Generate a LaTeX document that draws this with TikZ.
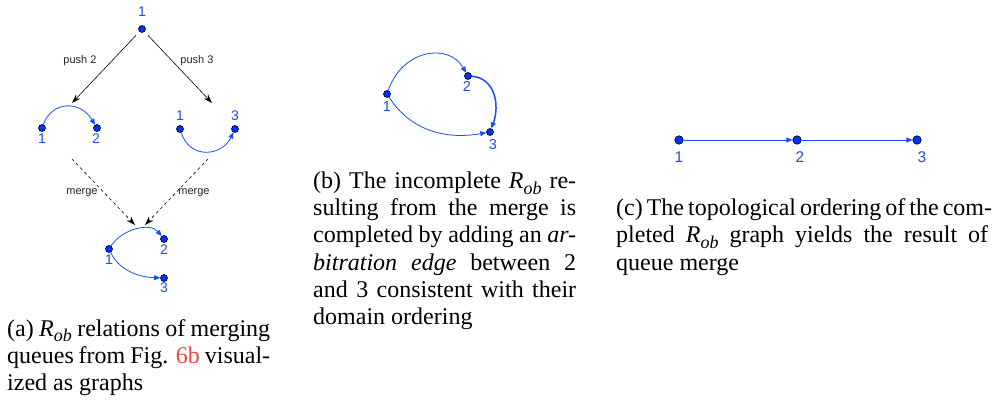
\documentclass[tikz,border=0pt]{standalone}
\usepackage{fontspec}
\setmainfont{Liberation Serif}
\newfontfamily\sansf{Liberation Sans}
\usetikzlibrary{arrows.meta}
\definecolor{gblue}{RGB}{25,75,255}
\definecolor{dotblue}{RGB}{0,50,255}
\definecolor{lblue}{RGB}{35,75,235}
\definecolor{refred}{RGB}{230,75,60}
\newcommand{\Rob}{\textit{R}\raisebox{-0.22em}{\fontsize{18}{18}\selectfont\textit{ob}}}
\tikzset{
  dot/.style={circle,fill=dotblue,draw=black,line width=0.6pt,inner sep=0pt,minimum size=#1},
  dot/.default=7pt,
  bedge/.style={draw=gblue,line width=0.8pt,-{Triangle[length=6pt,width=5pt]}},
  lab/.style={text=lblue,font=\sansf\fontsize{#1}{#1}\selectfont,inner sep=0pt},
  lab/.default=14,
  opl/.style={font=\sansf\fontsize{11}{11}\selectfont,inner sep=0pt,text=black!85},
  parr/.style={draw=black,line width=0.6pt,-{Stealth[length=9pt,width=6pt]}},
  darr/.style={parr,dash pattern=on 3pt off 3pt},
  capl/.style={anchor=base west,inner sep=0pt,font=\fontsize{24}{27}\selectfont}
}
\begin{document}
\begin{tikzpicture}[x=1pt,y=-1pt]
\path[use as bounding box,fill=white] (0,0) rectangle (998,403);
% ---------- panel (a)
\node[dot] (t) at (142,29) {};
\node[lab] (tl) at (142,12) {1};
\coordinate (p2e) at (72,103);
\coordinate (p3e) at (212,103);
\draw[parr,shorten <=5pt] (t) -- (p2e);
\draw[parr,shorten <=5pt] (t) -- (p3e);
\node[opl] (push2) at (80,61) {push 2};
\node[opl] (push3) at (197,61) {push 3};
% left graph
\node[dot] (l1) at (42,128) {};
\node[dot] (l2) at (97,128) {};
\node[lab] (l1l) at (42,139) {1};
\node[lab] (l2l) at (96,139) {2};
\draw[bedge] (l1) .. controls (52,101) and (80,100) .. (l2);
% right graph
\node[dot] (r1) at (180,129) {};
\node[dot] (r3) at (235,129) {};
\node[lab] (r1l) at (180,116) {1};
\node[lab] (r3l) at (235,116) {3};
\draw[bedge] (r1) .. controls (190,160) and (222,156) .. (r3);
% dashed merges
\coordinate (ms1) at (72,159);
\coordinate (me1) at (135,225);
\coordinate (ms2) at (208,159);
\coordinate (me2) at (145,225);
\draw[darr] (ms1) -- (me1);
\draw[darr] (ms2) -- (me2);
\node[opl] (mg1) at (82,193) {merge};
\node[opl] (mg2) at (194,193) {merge};
% bottom graph
\node[dot] (m1) at (109,249) {};
\node[dot] (m2) at (164,239) {};
\node[dot] (m3) at (164,278) {};
\node[lab] (m1l) at (109,260) {1};
\node[lab] (m2l) at (164,250) {2};
\node[lab] (m3l) at (164,288) {3};
\draw[bedge] (m1) .. controls (122,229) and (150,222) .. (m2);
\draw[bedge] (m1) .. controls (118,268) and (135,277) .. (m3);
% caption (a)
\node[capl] (ca1) at (7,336) {\makebox[263pt][s]{(a) \Rob{} relations of merging}};
\node[capl] (ca2) at (7,363) {\makebox[263pt][s]{queues from Fig. \textcolor{refred}{6b} visual-}};
\node[capl] (ca3) at (7,390) {ized as graphs};
% ---------- panel (b)
\node[dot] (b1) at (387,94) {};
\node[dot] (b2) at (468,76) {};
\node[dot] (b3) at (490,132) {};
\node[lab=14.5] (b1l) at (387,107) {1};
\node[lab=14.5] (b2l) at (467,86) {2};
\node[lab=14.5] (b3l) at (493,145) {3};
\draw[bedge] (b1) .. controls (402,50) and (448,42) .. (b2);
\draw[bedge] (b1) .. controls (410,130) and (445,140) .. (b3);
\draw[bedge,line width=1.5pt] (b2) .. controls (495,78) and (500,105) .. (b3);
% caption (b)
\node[capl] (cb1) at (313,189) {\makebox[263pt][s]{(b) The incomplete \Rob{} re-}};
\node[capl] (cb2) at (313,216) {\makebox[263pt][s]{sulting from the merge is}};
\node[capl] (cb3) at (313,243) {\makebox[263pt][s]{completed by adding an \textit{ar-}}};
\node[capl] (cb4) at (313,270) {\makebox[263pt][s]{\textit{bitration edge} between 2}};
\node[capl] (cb5) at (313,297) {\makebox[263pt][s]{and 3 consistent with their}};
\node[capl] (cb6) at (313,324) {domain ordering};
% ---------- panel (c)
\node[dot=8.5pt] (c1) at (679,140) {};
\node[dot=8.5pt] (c2) at (797,140) {};
\node[dot=8.5pt] (c3) at (917,140) {};
\node[lab=15.5] (c1l) at (679,157) {1};
\node[lab=15.5] (c2l) at (800,157) {2};
\node[lab=15.5] (c3l) at (922,157) {3};
\draw[bedge] (c1) -- (c2);
\draw[bedge] (c2) -- (c3);
% caption (c)
\node[capl] (cc1) at (616,216) {\makebox[372pt][s]{(c) The topological ordering of the com-}};
\node[capl] (cc2) at (616,243) {\makebox[372pt][s]{pleted \Rob{} graph yields the result of}};
\node[capl] (cc3) at (616,270) {queue merge};
\end{tikzpicture}
\end{document}
